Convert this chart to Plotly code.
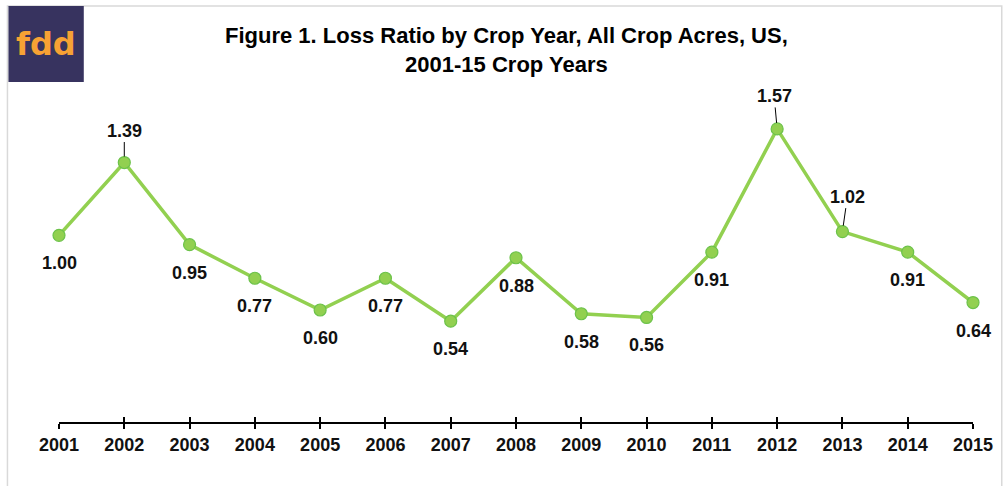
import plotly.graph_objects as go

# Loss ratio by crop year, all crop acres, US
years = [2001, 2002, 2003, 2004, 2005, 2006, 2007, 2008, 2009, 2010,
         2011, 2012, 2013, 2014, 2015]
loss_ratio = [1.00, 1.39, 0.95, 0.77, 0.60, 0.77, 0.54, 0.88, 0.58, 0.56,
              0.91, 1.57, 1.02, 0.91, 0.64]
tick_labels = [f"<b>{y}</b>" for y in years]

# years whose label sits above the point with a leader line: (dx, dy) offsets
above_labels = {2002: (0, -32), 2012: (-3, -33), 2013: (5, -35)}

W, H = 1005, 486
ML, MR, MT, MB = 59, 24, 86, 64
PW, PH = W - ML - MR, H - MT - MB

GREEN = "#92D050"
FONT = "Liberation Sans, Arial, sans-serif"


def px_x(px):
    return (px - ML) / PW


def px_y(py):
    return 1 - (py - MT) / PH


fig = go.Figure()
fig.add_trace(go.Scatter(
    x=years, y=loss_ratio, mode="lines+markers",
    line=dict(color=GREEN, width=3.5),
    marker=dict(size=12, color=GREEN, line=dict(color="#6cc24a", width=1.2)),
    cliponaxis=False, hoverinfo="x+y", showlegend=False,
))
# invisible trace to carry the upward half of the crossing tick marks
fig.add_trace(go.Scatter(x=years, y=loss_ratio, xaxis="x2", mode="none",
                         showlegend=False, hoverinfo="skip"))

annotations = []
for yr, v in zip(years, loss_ratio):
    txt = f"<b>{v:.2f}</b>"
    if yr in above_labels:
        dx, dy = above_labels[yr]
        annotations.append(dict(
            x=yr, y=v, text=txt, showarrow=True, arrowhead=0,
            arrowwidth=1, arrowcolor="#000000", ax=dx, ay=dy,
            standoff=6, font=dict(family=FONT, size=18, color="#111111"),
        ))
    else:
        annotations.append(dict(
            x=yr, y=v, text=txt, showarrow=False, yshift=-28,
            font=dict(family=FONT, size=18, color="#111111"),
        ))

# title
annotations.append(dict(
    xref="paper", yref="paper", x=px_x(510), y=px_y(50),
    xanchor="center", yanchor="middle", showarrow=False,
    text="<b>Figure 1. Loss Ratio by Crop Year, All Crop Acres, US,<br>2001-15 Crop Years</b>",
    font=dict(family=FONT, size=22, color="#000000"),
))
# logo text
annotations.append(dict(
    xref="paper", yref="paper", x=px_x(46), y=px_y(44),
    xanchor="center", yanchor="middle", showarrow=False,
    text="<b>fdd</b>", font=dict(family="DejaVu Sans, sans-serif", size=32, color="#F7A234"),
))

shapes = [
    # chart area border
    dict(type="rect", xref="paper", yref="paper",
         x0=px_x(7), x1=px_x(1010), y0=px_y(6), y1=px_y(495),
         line=dict(color="#d9d9d9", width=1.5), fillcolor="rgba(0,0,0,0)", layer="below"),
    # logo block
    dict(type="rect", xref="paper", yref="paper",
         x0=px_x(8), x1=px_x(84), y0=px_y(6), y1=px_y(82),
         line=dict(width=0), fillcolor="#37335F", layer="above"),
]

fig.update_layout(
    width=W, height=H,
    margin=dict(l=ML, r=MR, t=MT, b=MB),
    paper_bgcolor="white", plot_bgcolor="white",
    font=dict(family=FONT, size=18, color="#111111"),
    xaxis=dict(
        range=[years[0], years[-1]], tickvals=years, ticktext=tick_labels,
        showgrid=False, zeroline=False, showline=True, linecolor="#000000",
        linewidth=2, ticks="outside", ticklen=5, tickwidth=2, tickcolor="#000000",
        tickfont=dict(family=FONT, size=18, color="#111111"),
    ),
    xaxis2=dict(
        overlaying="x", anchor="y", side="bottom", matches="x",
        tickvals=years, showticklabels=False, showgrid=False, zeroline=False,
        showline=False, ticks="inside", ticklen=5, tickwidth=2, tickcolor="#000000",
    ),
    yaxis=dict(range=[0, 1.8], visible=False, showgrid=False, zeroline=False),
    annotations=annotations,
    shapes=shapes,
)

fig.write_html("out.html")
